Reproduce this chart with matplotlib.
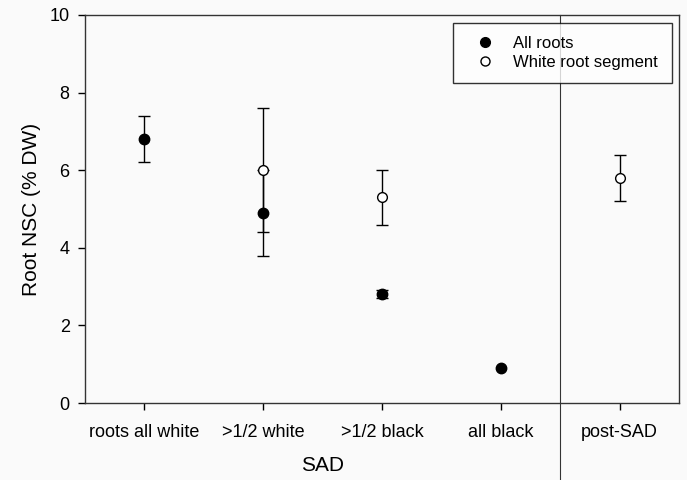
import numpy as np
import matplotlib.pyplot as plt
from matplotlib.lines import Line2D

plt.rcParams['font.family'] = ['Liberation Sans', 'DejaVu Sans']

categories = ['roots all white', '>1/2 white', '>1/2 black', 'all black', 'post-SAD']

# All roots (first four stages only)
all_x = np.array([0, 1, 2, 3])
all_mean = np.array([6.8, 4.9, 2.8, 0.9])
all_err = np.array([0.6, 1.1, 0.1, 0.0])

# White root segment
white_x = np.array([1, 2, 4])
white_mean = np.array([6.0, 5.3, 5.8])
white_err = np.array([1.6, 0.7, 0.6])

fig = plt.figure(figsize=(6.87, 4.8), dpi=100, facecolor='#fafafa')
ax = fig.add_axes([85/687, 1 - 403/480, 594/687, 388/480])
ax.set_facecolor('#fafafa')

bar_kw = dict(fmt='none', ecolor='black', capsize=4.5, elinewidth=1, capthick=1)
m = all_err > 0
ax.errorbar(all_x[m], all_mean[m], yerr=all_err[m], zorder=2, **bar_kw)
ax.errorbar(white_x, white_mean, yerr=white_err, zorder=2, **bar_kw)
ax.plot(all_x, all_mean, 'o', color='black', ms=7.5, ls='none', zorder=3)
ax.plot(white_x, white_mean, 'o', mfc='white', mec='black', mew=1, ms=7,
        ls='none', zorder=4)

ax.axvline(3.5, ymin=-0.2, ymax=1, color='#333333', lw=0.8, clip_on=False)

ax.set_xlim(-0.5, 4.5)
ax.set_ylim(0, 10)
ax.set_yticks(np.arange(0, 11, 2))
ax.set_xticks(range(len(categories)))
ax.set_xticklabels(categories)
ax.tick_params(direction='out', labelsize=13, length=5, width=1)
ax.tick_params(axis='x', pad=10)
ax.tick_params(axis='y', pad=6)
for s in ax.spines.values():
    s.set_linewidth(1)
    s.set_color('#333333')

ax.set_ylabel('Root NSC (% DW)', fontsize=15, labelpad=6)
ax.text(1.5, -0.16, 'SAD', transform=ax.get_xaxis_transform(), ha='center',
        va='center', fontsize=15)

handles = [
    Line2D([], [], marker='o', ls='none', color='black', ms=7),
    Line2D([], [], marker='o', ls='none', mfc='white', mec='black', mew=1, ms=6.5),
]
leg = ax.legend(handles, ['All roots', 'White root segment'], loc='upper right',
                fontsize=12, frameon=True, fancybox=False, edgecolor='black',
                handlelength=2.3, handletextpad=0.55, borderpad=0.8,
                labelspacing=0.25, borderaxespad=0.45)
leg.get_frame().set_linewidth(1)
leg.get_frame().set_facecolor('white')

fig.savefig('out.png', dpi=100, facecolor=fig.get_facecolor())
